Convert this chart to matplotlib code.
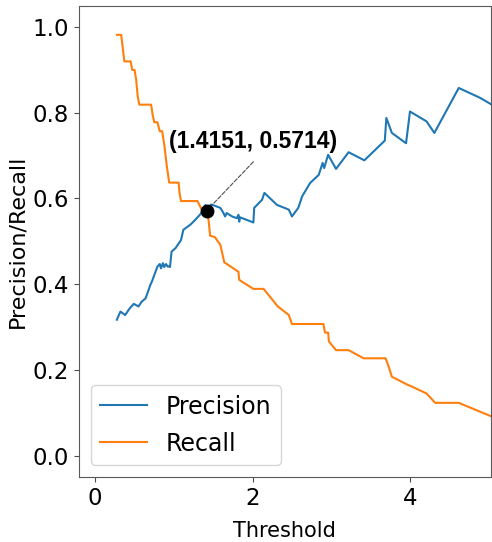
import matplotlib
matplotlib.use("Agg")
import matplotlib.pyplot as plt

# precision curve (threshold, value)
prec_x = [0.275, 0.32, 0.38, 0.44, 0.49, 0.55, 0.59, 0.64, 0.70, 0.72, 0.76, 0.79,
          0.82, 0.835, 0.86, 0.876, 0.90, 0.92, 0.94, 0.95, 0.97, 1.02, 1.09, 1.12,
          1.21, 1.27, 1.33, 1.39, 1.40, 1.4151, 1.47, 1.52, 1.59, 1.63, 1.65, 1.67,
          1.74, 1.80, 1.82, 1.83, 1.84, 2.01, 2.02, 2.12, 2.15, 2.31, 2.46, 2.50,
          2.58, 2.63, 2.73, 2.84, 2.89, 2.91, 2.94, 2.96, 3.06, 3.22, 3.42, 3.68,
          3.70, 3.77, 3.95, 4.00, 4.21, 4.31, 4.62, 4.89, 5.04]
prec_y = [0.317, 0.336, 0.328, 0.344, 0.354, 0.348, 0.359, 0.367, 0.398, 0.406, 0.426, 0.441,
          0.447, 0.437, 0.449, 0.440, 0.447, 0.441, 0.442, 0.440, 0.476, 0.484, 0.503, 0.527,
          0.539, 0.550, 0.562, 0.575, 0.585, 0.5714, 0.586, 0.583, 0.578, 0.566, 0.558, 0.566,
          0.558, 0.554, 0.562, 0.546, 0.556, 0.544, 0.578, 0.597, 0.613, 0.585, 0.574, 0.558,
          0.578, 0.605, 0.636, 0.655, 0.683, 0.671, 0.690, 0.702, 0.669, 0.708, 0.689, 0.735,
          0.788, 0.753, 0.729, 0.803, 0.780, 0.753, 0.858, 0.835, 0.819]

# recall curve
rec_x = [0.275, 0.33, 0.37, 0.45, 0.47, 0.50, 0.52, 0.54, 0.56, 0.71, 0.73, 0.75, 0.79,
         0.82, 0.85, 0.88, 0.91, 0.94, 1.06, 1.07, 1.09, 1.30, 1.35, 1.4151, 1.43, 1.44,
         1.46, 1.52, 1.59, 1.64, 1.82, 1.83, 2.01, 2.14, 2.32, 2.46, 2.50, 2.90, 2.92,
         2.96, 2.97, 3.06, 3.22, 3.41, 3.69, 3.73, 3.77, 3.96, 4.00, 4.21, 4.32, 4.62, 5.04]
rec_y = [0.982, 0.982, 0.92, 0.92, 0.90, 0.90, 0.877, 0.838, 0.819, 0.819, 0.795, 0.778, 0.778,
         0.757, 0.757, 0.722, 0.675, 0.637, 0.637, 0.614, 0.594, 0.594, 0.575, 0.5714, 0.56, 0.55,
         0.513, 0.51, 0.492, 0.451, 0.429, 0.41, 0.389, 0.389, 0.348, 0.328, 0.307, 0.307, 0.287,
         0.287, 0.266, 0.246, 0.246, 0.227, 0.227, 0.207, 0.184, 0.166, 0.163, 0.145, 0.123, 0.123, 0.091]

best_thr = 1.4151
best_val = 0.5714

fig = plt.figure(figsize=(4.92, 5.42), dpi=100)
ax = fig.add_axes([0.160, 0.12, 0.838, 0.8695])

ax.plot(prec_x, prec_y, color='#1f77b4', lw=1.5, label='Precision')
ax.plot(rec_x, rec_y, color='#ff7f0e', lw=1.5, label='Recall')

# crossing point + label
ax.plot(best_thr, best_val, 'o', color='black', markersize=9, zorder=5)
ax.annotate('({:.4f}, {:.4f})'.format(best_thr, best_val),
            xy=(best_thr, best_val), xytext=(2.01, 0.733),
            ha='center', va='center', fontsize=16.5, fontweight='bold',
            family='Liberation Sans',
            arrowprops=dict(arrowstyle='-', linestyle='--', color='0.3', lw=0.8,
                            relpos=(0.55, 0.0), shrinkA=6, shrinkB=4))

ax.set_xlim(-0.21, 5.03)
ax.set_ylim(-0.05, 1.05)
ax.set_xticks([0, 2, 4])
ax.set_yticks([0.0, 0.2, 0.4, 0.6, 0.8, 1.0])
ax.tick_params(labelsize=16.5, color='0.3')
for sp in ax.spines.values():
    sp.set_color('0.35')

ax.set_xlabel('Threshold', fontsize=15, labelpad=8)
ax.set_ylabel('Precision/Recall', fontsize=16)
ax.legend(loc='lower left', fontsize=17, labelspacing=0.55)

fig.savefig('out.png', dpi=100)
